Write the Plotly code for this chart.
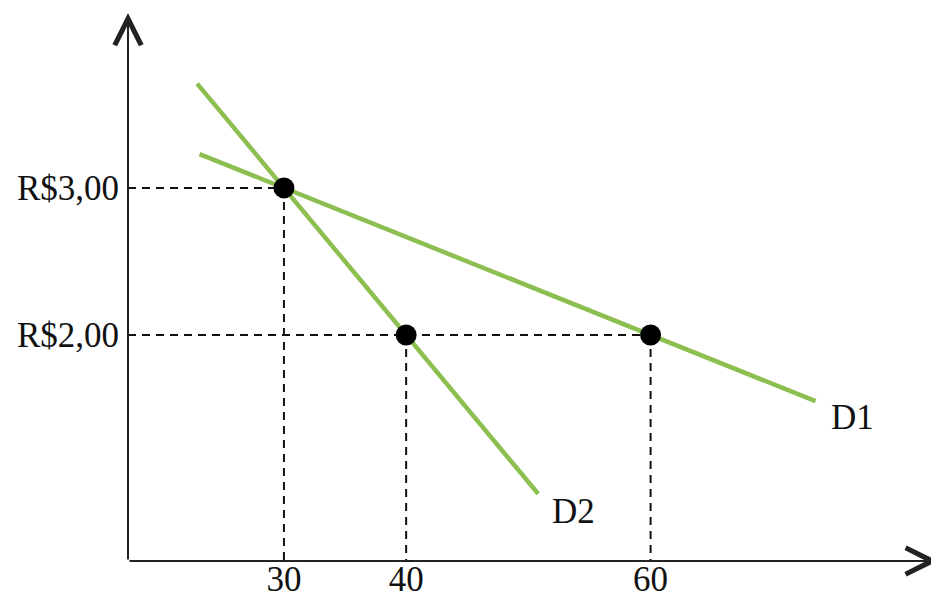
import plotly.graph_objects as go

# --- data ---
points_q = [30, 40, 60]
points_p = [3.00, 2.00, 2.00]

d1_q = [23.1, 73.5]
d1_p = [3.23, 1.55]
d2_q = [22.9, 50.8]
d2_p = [3.71, 0.92]

x_ticks = [30, 40, 60]
x_ticktext = ["30", "40", "60"]
y_ticks = [2.00, 3.00]
y_ticktext = ["R$2,00", "R$3,00"]

curve_labels = ["D1", "D2"]
label_q = [76.5, 53.7]
label_p = [1.44, 0.80]

# axis extents (data units)
q_min, q_max = 17.24, 83.6
p_min, p_max = 0.4626, 4.224
q_arrow_end = 83.5
p_arrow_end = 4.19

GREEN = "#8CBF4F"
FONT = "Liberation Serif"
FS = 35

fig = go.Figure()

# dashed guide lines
for q, p in zip(points_q, points_p):
    fig.add_trace(go.Scatter(x=[q_min, q], y=[p, p], mode="lines",
                             line=dict(color="#111", width=2, dash="8px,6px"),
                             hoverinfo="skip", showlegend=False))
    fig.add_trace(go.Scatter(x=[q, q], y=[p, p_min], mode="lines",
                             line=dict(color="#111", width=2, dash="8px,6px"),
                             hoverinfo="skip", showlegend=False))

# demand curves
fig.add_trace(go.Scatter(x=d1_q, y=d1_p, mode="lines",
                         line=dict(color=GREEN, width=4.5), showlegend=False))
fig.add_trace(go.Scatter(x=d2_q, y=d2_p, mode="lines",
                         line=dict(color=GREEN, width=4.5), showlegend=False))

# points
fig.add_trace(go.Scatter(x=points_q, y=points_p, mode="markers",
                         marker=dict(color="black", size=21), showlegend=False,
                         cliponaxis=False))

annotations = []
for t, q, p in zip(curve_labels, label_q, label_p):
    annotations.append(dict(x=q, y=p, text=t, showarrow=False, xref="x", yref="y",
                            font=dict(family=FONT, size=FS, color="#111"),
                            xanchor="center", yanchor="middle"))
# axis arrows
annotations.append(dict(x=q_arrow_end, y=p_min, ax=q_min, ay=p_min, xref="x", yref="y",
                        axref="x", ayref="y", text="", showarrow=True,
                        arrowhead=5, arrowsize=2.6, arrowwidth=2, arrowcolor="#222"))
annotations.append(dict(x=q_min, y=p_arrow_end, ax=q_min, ay=p_min, xref="x", yref="y",
                        axref="x", ayref="y", text="", showarrow=True,
                        arrowhead=5, arrowsize=2.6, arrowwidth=2, arrowcolor="#222"))

# the page body has an 8px default margin, so the figure is sized to fill the rest
fig.update_layout(
    width=931, height=587,
    margin=dict(l=120, r=0, t=0, b=34),
    paper_bgcolor="white", plot_bgcolor="white",
    annotations=annotations,
    xaxis=dict(range=[q_min, q_max], showgrid=False, zeroline=False, showline=False,
               tickvals=x_ticks, ticktext=x_ticktext, ticks="", automargin=False,
               ticklabelstandoff=-6,
               tickfont=dict(family=FONT, size=FS, color="#111")),
    yaxis=dict(range=[p_min, p_max], showgrid=False, zeroline=False, showline=False,
               tickvals=y_ticks, ticktext=y_ticktext, ticks="", automargin=False,
               ticklabelstandoff=8,
               tickfont=dict(family=FONT, size=FS, color="#111")),
)

fig.write_html("out.html")
